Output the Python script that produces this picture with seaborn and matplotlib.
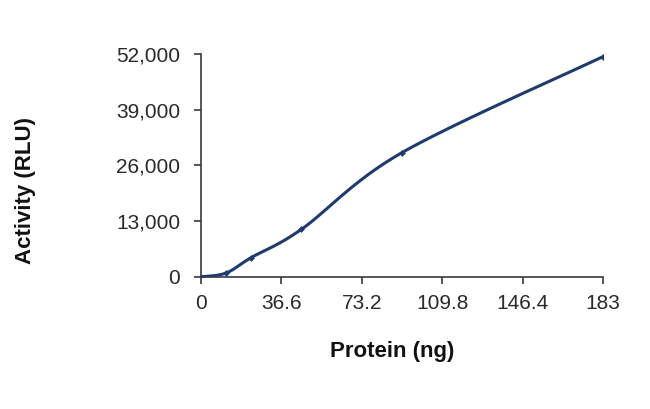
import numpy as np
import pandas as pd
import matplotlib
matplotlib.use("Agg")
import matplotlib.pyplot as plt
import seaborn as sns

# Data
protein_ng = [0, 11.44, 22.88, 45.75, 91.5, 183]
activity_rlu = [0, 900, 4500, 11100, 29000, 51400]
x_ticks = [0, 36.6, 73.2, 109.8, 146.4, 183]
x_tick_labels = ["0", "36.6", "73.2", "109.8", "146.4", "183"]
y_ticks = [0, 13000, 26000, 39000, 52000]

df = pd.DataFrame({"protein": protein_ng, "activity": activity_rlu})


# Excel-style smoothed line (Catmull-Rom / Bezier through the points)
def smooth(xs, ys, n=40):
    xs = np.asarray(xs, float)
    ys = np.asarray(ys, float)
    px = np.concatenate([[xs[0]], xs, [xs[-1]]])
    py = np.concatenate([[ys[0]], ys, [ys[-1]]])
    out_x, out_y = [], []
    t = np.linspace(0, 1, n)
    for i in range(1, len(px) - 2):
        p0 = np.array([px[i], py[i]])
        p3 = np.array([px[i + 1], py[i + 1]])
        c1 = p0 + (np.array([px[i + 1], py[i + 1]]) - np.array([px[i - 1], py[i - 1]])) / 6
        c2 = p3 - (np.array([px[i + 2], py[i + 2]]) - np.array([px[i], py[i]])) / 6
        b = ((1 - t) ** 3)[:, None] * p0 + (3 * (1 - t) ** 2 * t)[:, None] * c1 \
            + (3 * (1 - t) * t ** 2)[:, None] * c2 + (t ** 3)[:, None] * p3
        out_x.extend(b[:, 0])
        out_y.extend(b[:, 1])
    return pd.DataFrame({"protein": out_x, "activity": out_y})


curve = smooth(protein_ng, activity_rlu)

sns.set_style("white")
plt.rcParams["font.family"] = ["Liberation Sans", "DejaVu Sans"]

line_color = "#1f3a6e"
axis_color = "#3a3a3a"

fig = plt.figure(figsize=(6.5, 4.09), dpi=100)
ax = fig.add_axes([0.309, 0.323, 0.619, 0.545])

sns.lineplot(data=curve, x="protein", y="activity", ax=ax, color=line_color,
             linewidth=2.2, sort=False, estimator=None)
sns.scatterplot(data=df, x="protein", y="activity", ax=ax, color=line_color,
                s=10, marker="D", edgecolor=line_color, zorder=3)

ax.set_xlim(0, 183)
ax.set_ylim(0, 52000)
ax.set_xticks(x_ticks)
ax.set_xticklabels(x_tick_labels)
ax.set_yticks(y_ticks)
ax.set_yticklabels([f"{v:,}" for v in y_ticks])

for side in ["top", "right"]:
    ax.spines[side].set_visible(False)
for side in ["left", "bottom"]:
    ax.spines[side].set_color(axis_color)
    ax.spines[side].set_linewidth(1.2)
    ax.spines[side].set_zorder(0.5)

ax.tick_params(axis="both", direction="out", length=5, width=1.2, color=axis_color,
               labelsize=15, labelcolor="#2a2a2a", bottom=True, left=True)
ax.tick_params(axis="y", pad=10)
ax.tick_params(axis="x", pad=7)
ax.set_xlabel("")
ax.set_ylabel("")
fig.text(0.604, 1 - 352 / 409, "Protein (ng)", ha="center", va="center",
         fontsize=16, fontweight="bold", color="#111111")
fig.text(26 / 650, 1 - 190 / 409, "Activity (RLU)", rotation=90, ha="center",
         va="center", fontsize=16, fontweight="bold", color="#111111")

fig.savefig("out.png", dpi=100)
